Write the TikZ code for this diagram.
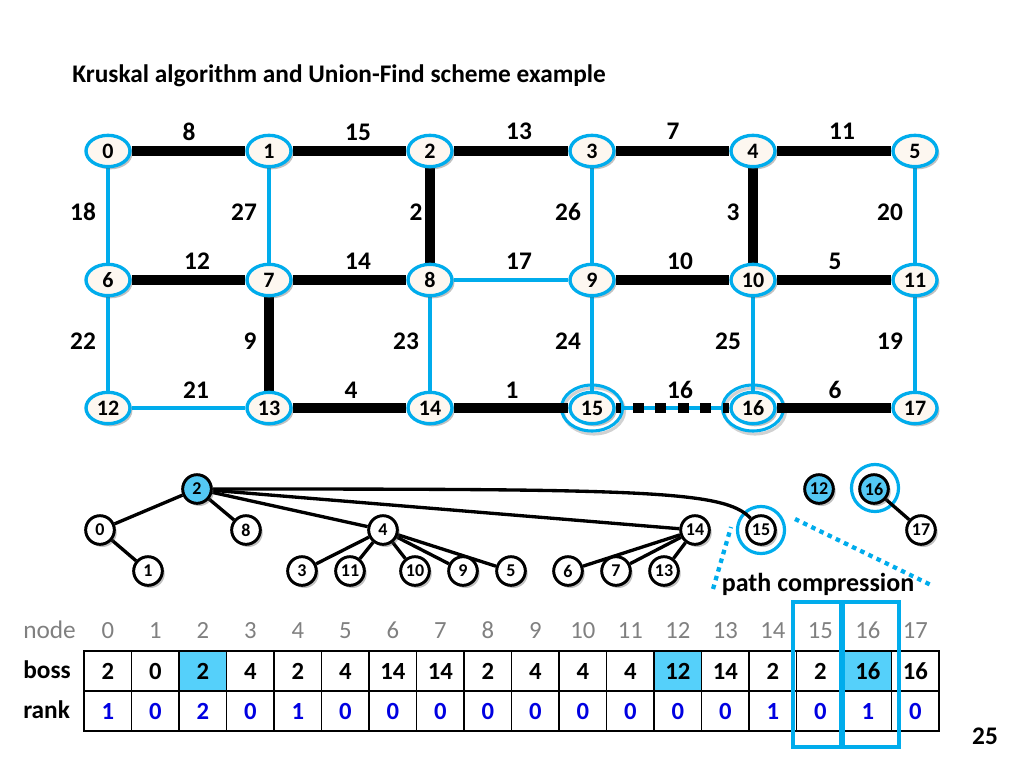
\documentclass[tikz,border=0pt]{standalone}
\usepackage{fontspec}
\setmainfont{Carlito}
\usetikzlibrary{shapes.geometric,shadows}
\definecolor{eblue}{RGB}{0,172,236}
\definecolor{cream}{RGB}{253,247,240}
\definecolor{tblue}{RGB}{84,200,244}
\definecolor{hblue}{RGB}{85,208,250}
\definecolor{rblue}{RGB}{0,0,225}
\definecolor{hgray}{RGB}{128,128,128}
\pgfdeclarelayer{ringlayer}
\pgfdeclarelayer{edgelayer}
\pgfsetlayers{ringlayer,edgelayer,main}
\tikzset{
  shad/.style={drop shadow={shadow xshift=1.8pt,shadow yshift=-2pt,opacity=0.35,fill=black!70}},
  gnode/.style={ellipse,draw=eblue,line width=2.5pt,fill=cream,minimum width=33pt,minimum height=23.5pt,
    inner sep=0pt,font=\fontsize{16.5}{16.5}\selectfont\bfseries,shad},
  gring/.style={ellipse,draw=eblue,line width=2.3pt,minimum width=45.8pt,minimum height=34.5pt,inner sep=0pt},
  gringshadow/.style={ellipse,draw=black!30,line width=2.3pt,minimum width=45.8pt,minimum height=34.5pt,inner sep=0pt,opacity=0.6},
  thickedge/.style={draw=black,line width=6.9pt},
  thinedge/.style={draw=eblue,line width=2.6pt},
  wlabel/.style={font=\fontsize{19}{19}\selectfont\bfseries,inner sep=0pt},
  tnode/.style={circle,draw=black,line width=2.2pt,fill=white,minimum size=21.5pt,inner sep=0pt,
    font=\fontsize{13.5}{13.5}\selectfont\bfseries,shad},
  troot/.style={tnode,fill=tblue},
  tring/.style={circle,draw=eblue,line width=2.4pt,minimum size=35.3pt,inner sep=0pt},
  tedge/.style={draw=black,line width=2.5pt},
  pcline/.style={draw=eblue,line width=3.2pt,dash pattern=on 3.4pt off 3.4pt},
  cell/.style={rectangle,draw=black,line width=1.1pt,minimum width=35.625pt,minimum height=30pt,inner sep=0pt,
    font=\fontsize{18.5}{18.5}\selectfont\bfseries},
  hdr/.style={anchor=base,inner sep=0pt,text=hgray,font=\fontsize{18.5}{18.5}\selectfont},
  rowlabel/.style={anchor=base west,inner sep=0pt,font=\fontsize{19}{19}\selectfont\bfseries},
  selbox/.style={draw=eblue,line width=2.3pt}
}
\begin{document}
\begin{tikzpicture}[x=0.75pt,y=-0.75pt]
\useasboundingbox (0,0) rectangle (1024,768);

% title
\node[anchor=base west,inner sep=0pt,font=\fontsize{19}{19}\selectfont\bfseries] (title) at (72,82)
  {Kruskal algorithm and Union-Find scheme example};

% ---------- grid graph ----------
\foreach \r in {0,1,2}{
  \foreach \c in {0,...,5}{
    \pgfmathtruncatemacro\id{6*\r+\c}
    \pgfmathsetmacro\xx{{108,269,430,592,753,915}[\c]}
    \pgfmathsetmacro\yy{{151,280,408}[\r]}
    \node[gnode] (g\id) at (\xx,\yy) {\id};
  }
}
\begin{pgfonlayer}{ringlayer}
  \node[gringshadow] (rs15) at (594,411) {};
  \node[gringshadow] (rs16) at (755,411) {};
  \node[gring] (r15) at (592,408) {};
  \node[gring] (r16) at (753,408) {};
\end{pgfonlayer}
\begin{pgfonlayer}{edgelayer}
  \foreach \a/\b/\s in {0/1/thickedge,1/2/thickedge,2/3/thickedge,3/4/thickedge,4/5/thickedge,
      0/6/thinedge,1/7/thinedge,2/8/thickedge,3/9/thinedge,4/10/thickedge,5/11/thinedge,
      6/7/thickedge,7/8/thickedge,8/9/thinedge,9/10/thickedge,10/11/thickedge,
      6/12/thinedge,7/13/thickedge,8/14/thinedge,9/15/thinedge,10/16/thinedge,11/17/thinedge,
      12/13/thinedge,13/14/thickedge,14/15/thickedge,16/17/thickedge}{
    \draw[\s] (g\a) -- (g\b);
  }
  \draw[thinedge] (g15) -- (g16);
  \draw[draw=black,line width=6.9pt,dash pattern=on 8.25pt off 8.6pt,dash phase=3.9pt] (g15) -- (g16);
\end{pgfonlayer}

% weights
\foreach \w/\x/\y [count=\k] in {8/189/132,15/358/132,13/519/131,7/673/131,11/842/131,
    18/83/212,27/244/212,2/416/212,26/568/212,3/733/212,20/890/212,
    12/197/261,14/358/261,17/519/261,10/680/261,5/835/261,
    22/83/341,9/250/341,23/406/341,24/568/341,25/728/341,19/890/341,
    21/196/390,4/351/390,1/512/390,16/680/390,6/835/390}{
  \node[wlabel] (w\k) at (\x,\y) {\w};
}

% ---------- union-find forest ----------
\node[troot] (t2) at (197,489) {2};
\node[tnode] (t0) at (100,530) {0};
\node[tnode] (t8) at (246,530) {8};
\node[tnode] (t1) at (148,571) {1};
\node[tnode] (t4) at (383,530) {4};
\node[tnode] (t3) at (302,571) {3};
\node[tnode] (t11) at (350,571) {11};
\node[tnode] (t10) at (415,571) {10};
\node[tnode] (t9) at (463,571) {9};
\node[tnode] (t5) at (511,571) {5};
\node[tnode] (t14) at (695,530) {14};
\node[tnode] (t6) at (568,571) {6};
\node[tnode] (t7) at (616,571) {7};
\node[tnode] (t13) at (664,571) {13};
\node[tnode] (t15) at (761,530) {15};
\node[troot] (t12) at (819,489) {12};
\node[troot] (t16) at (874,489) {16};
\node[tnode] (t17) at (921,530) {17};
\begin{pgfonlayer}{ringlayer}
  \node[tring] (tr15) at (761,530) {};
  \node[tring] (tr16) at (875,488) {};
\end{pgfonlayer}
\begin{pgfonlayer}{edgelayer}
  \foreach \a/\b in {2/0,0/1,2/8,2/4,4/3,4/11,4/10,4/9,4/5,2/14,14/6,14/7,14/13,16/17}{
    \draw[tedge] (t\a) -- (t\b);
  }
  \draw[tedge] (t2) .. controls (640,489) and (725,490) .. (t15);
\end{pgfonlayer}

% path compression
\coordinate (pa1) at (713,589);
\coordinate (pa2) at (731,527);
\coordinate (pb1) at (795,519);
\coordinate (pb2) at (931,585);
\draw[pcline] (pa1) -- (pa2);
\draw[pcline] (pb1) -- (pb2);
\node[anchor=base,inner sep=0pt,font=\fontsize{19.5}{19.5}\selectfont\bfseries] (pc) at (818,591) {path compression};

% ---------- table ----------
\foreach \i in {2,12,16}{
  \fill[hblue] ({84+47.5*\i},651) rectangle ({84+47.5*(\i+1)},691);
}
\node[rowlabel,text=hgray,font=\fontsize{19}{19}\selectfont] (lnode) at (23,638) {node};
\node[rowlabel] (lboss) at (23,678) {boss};
\node[rowlabel] (lrank) at (23,718) {rank};
\foreach \b/\r [count=\i from 0] in {2/1,0/0,2/2,4/0,2/1,4/0,14/0,14/0,2/0,4/0,4/0,4/0,12/0,14/0,2/1,2/0,16/1,16/0}{
  \pgfmathsetmacro\cx{107.75+47.5*\i}
  \node[hdr] (h\i) at (\cx,638) {\i};
  \node[cell] (b\i) at (\cx,671) {\b};
  \node[cell,text=rblue] (k\i) at (\cx,711) {\r};
}
\draw[selbox] (793,602) rectangle (843,747);
\draw[selbox] (841,602) rectangle (899,747);

\node[font=\fontsize{19}{19}\selectfont\bfseries,inner sep=0pt] (pnum) at (985,736) {25};
\end{tikzpicture}
\end{document}
